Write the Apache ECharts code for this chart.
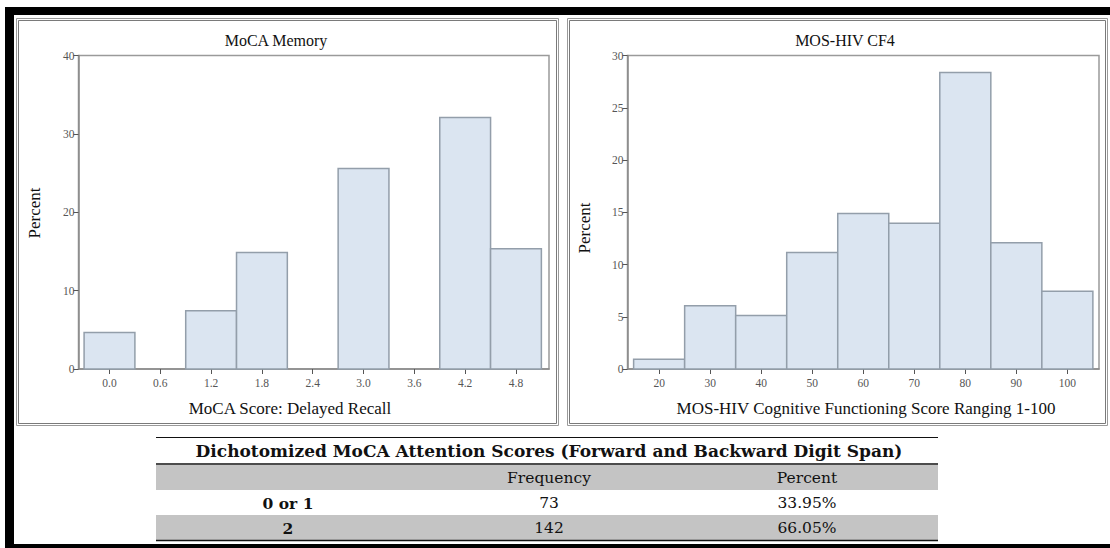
<!DOCTYPE html>
<html>
<head>
<meta charset="utf-8">
<script src="https://cdn.jsdelivr.net/npm/echarts@6/dist/echarts.min.js"></script>
<style>
  html, body {margin: 0; padding: 0; background: #fff;}
  #main {width: 1110px; height: 548px;}
</style>
</head>
<body>
<div id="main"></div>
<script>
// MoCA memory histogram (bin centres, percent)
var memoryScore = [0.0, 0.6, 1.2, 1.8, 2.4, 3.0, 3.6, 4.2, 4.8];
var memoryPercent = [4.65, 0, 7.44, 14.88, 0, 25.58, 0, 32.09, 15.35];
var memoryBinWidth = 0.6;

// MOS-HIV CF4 histogram
var cf4Score = [20, 30, 40, 50, 60, 70, 80, 90, 100];
var cf4Percent = [0.93, 6.05, 5.12, 11.16, 14.88, 13.95, 28.37, 12.09, 7.44];
var cf4BinWidth = 10;

// table below
var tableTitle = 'Dichotomized MoCA Attention Scores (Forward and Backward Digit Span)';
var tableHeader = ['', 'Frequency', 'Percent'];
var tableGroups = ['0 or 1', '2'];
var tableFreq = [73, 142];
var tablePercent = ['33.95%', '66.05%'];

var serif = '"Liberation Serif", "Times New Roman", serif';
var tableFont = '"DejaVu Serif", serif';
var barFill = '#dbe5f1';
var barLine = '#939eaa';
var axisGrey = '#8a8a8a';

function binData(centers, values, w) {
    var out = [];
    for (var i = 0; i < centers.length; i++) {
        out.push([centers[i] - w / 2, centers[i] + w / 2, values[i]]);
    }
    return out;
}

function histItem(params, api) {
    var v = api.value(2);
    if (!v) return null;
    var p0 = api.coord([api.value(0), v]);
    var p1 = api.coord([api.value(1), 0]);
    return {
        type: 'rect',
        shape: {x: p0[0], y: p0[1], width: p1[0] - p0[0], height: p1[1] - p0[1]},
        style: {fill: barFill, stroke: barLine, lineWidth: 1.5}
    };
}

function xAxisOpt(idx, min, max, ticks, fmt) {
    return {
        type: 'value', gridIndex: idx, min: min, max: max,
        splitLine: {show: false},
        axisLine: {show: true, onZero: false, lineStyle: {color: axisGrey, width: 1.5}},
        axisTick: {show: true, length: 5, customValues: ticks, lineStyle: {color: '#555'}},
        axisLabel: {customValues: ticks, formatter: fmt, margin: 8, fontFamily: serif, fontSize: 11.5, color: '#555'}
    };
}

function yAxisOpt(idx, max, step) {
    return {
        type: 'value', gridIndex: idx, min: 0, max: max, interval: step,
        splitLine: {show: false},
        axisLine: {show: true, onZero: false, lineStyle: {color: axisGrey, width: 1.5}},
        axisTick: {show: true, length: 5, lineStyle: {color: '#555'}},
        axisLabel: {margin: 4, fontFamily: serif, fontSize: 11.5, color: '#555'}
    };
}

function txt(x, y, s, font, opts) {
    opts = opts || {};
    return {
        type: 'text', x: x, y: y, rotation: opts.rotation || 0, silent: true,
        style: {text: s, font: font, fill: opts.fill || '#111', align: opts.align || 'center', verticalAlign: 'middle'}
    };
}

function box(x, y, w, h, color) {
    return {type: 'rect', silent: true, shape: {x: x, y: y, width: w, height: h}, style: {fill: 'none', stroke: color, lineWidth: 1}};
}

function fillRect(x, y, w, h, color) {
    return {type: 'rect', silent: true, shape: {x: x, y: y, width: w, height: h}, style: {fill: color}};
}

function hline(x1, x2, y, w) {
    return {type: 'line', silent: true, shape: {x1: x1, y1: y, x2: x2, y2: y}, style: {stroke: '#111', lineWidth: w}};
}

var graphics = [];
// black frame
graphics.push(fillRect(5, 7, 1105, 8, '#000'));
graphics.push(fillRect(5, 7, 9, 541, '#000'));
graphics.push(fillRect(5, 544, 1105, 4, '#000'));
// panel borders (double grey line)
graphics.push(box(16.5, 18.5, 542, 407, '#9a9a9a'));
graphics.push(box(18.5, 20.5, 538, 403, '#7a7a7a'));
graphics.push(box(567.5, 18.5, 540, 407, '#9a9a9a'));
graphics.push(box(569.5, 20.5, 536, 403, '#7a7a7a'));

// chart titles and axis names
graphics.push(txt(276, 40, 'MoCA Memory', '16px ' + serif));
graphics.push(txt(845, 40, 'MOS-HIV CF4', '16px ' + serif));
graphics.push(txt(290, 408, 'MoCA Score: Delayed Recall', '17px ' + serif));
graphics.push(txt(866, 408, 'MOS-HIV Cognitive Functioning Score Ranging 1-100', '17px ' + serif));
graphics.push(txt(34, 213, 'Percent', '17px ' + serif, {rotation: Math.PI / 2}));
graphics.push(txt(584, 228, 'Percent', '17px ' + serif, {rotation: Math.PI / 2}));

// table
var tL = 156, tR = 938;
var colX = [288, 549, 807];
graphics.push(hline(tL, tR, 437.5, 1.2));
graphics.push(txt((tL + tR) / 2 + 2, 451, tableTitle, 'bold 17px ' + tableFont));
graphics.push(hline(tL, tR, 464, 1.5));
graphics.push(fillRect(tL, 465, tR - tL, 25, '#c4c4c4'));
graphics.push(fillRect(tL, 515, tR - tL, 25, '#c4c4c4'));
graphics.push(hline(tL, tR, 540.5, 1.5));
for (var c = 0; c < tableHeader.length; c++) {
    if (tableHeader[c]) graphics.push(txt(colX[c], 478, tableHeader[c], '15.5px ' + tableFont));
}
for (var r = 0; r < tableGroups.length; r++) {
    var ry = 503 + r * 25;
    graphics.push(txt(colX[0], ry, tableGroups[r], 'bold 15.5px ' + tableFont));
    graphics.push(txt(colX[1], ry, String(tableFreq[r]), '15.5px ' + tableFont));
    graphics.push(txt(colX[2], ry, tablePercent[r], '15.5px ' + tableFont));
}

var chart = echarts.init(document.getElementById('main'), null, {renderer: 'svg'});
chart.setOption({
    animation: false,
    backgroundColor: '#fff',
    grid: [
        {left: 78.5, top: 55.5, width: 470.5, height: 313.5, show: true, borderColor: '#9a9a9a', borderWidth: 1.5, backgroundColor: 'transparent'},
        {left: 627.5, top: 55.5, width: 471.5, height: 313.5, show: true, borderColor: '#9a9a9a', borderWidth: 1.5, backgroundColor: 'transparent'}
    ],
    xAxis: [
        xAxisOpt(0, -0.366, 5.19, memoryScore, function (v) { return v.toFixed(1); }),
        xAxisOpt(1, 13.8, 106.2, cf4Score, function (v) { return String(v); })
    ],
    yAxis: [
        yAxisOpt(0, 40, 10),
        yAxisOpt(1, 30, 5)
    ],
    series: [
        {type: 'custom', xAxisIndex: 0, yAxisIndex: 0, renderItem: histItem, data: binData(memoryScore, memoryPercent, memoryBinWidth)},
        {type: 'custom', xAxisIndex: 1, yAxisIndex: 1, renderItem: histItem, data: binData(cf4Score, cf4Percent, cf4BinWidth)}
    ],
    graphic: graphics
});
</script>
</body>
</html>
